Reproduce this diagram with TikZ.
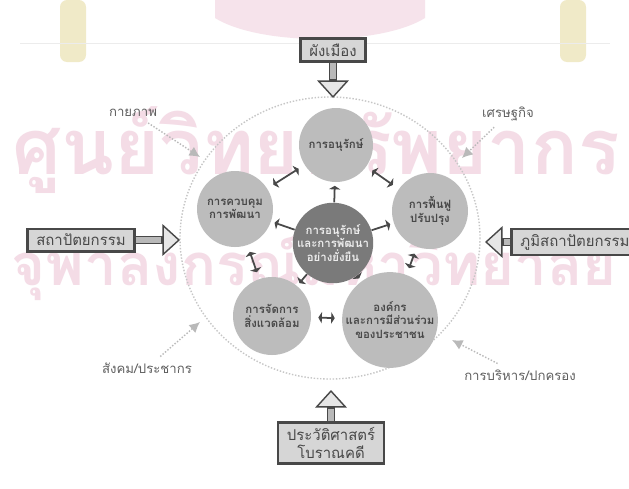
\documentclass[tikz,border=0pt]{standalone}
\usepackage{fontspec}
\setmainfont[Script=Thai]{Loma}
\usepackage{tikz}
\usetikzlibrary{arrows.meta}

\definecolor{wmpink}{RGB}{244,220,230}
\definecolor{wmgold}{RGB}{240,234,200}
\definecolor{boxfill}{RGB}{214,214,214}
\definecolor{circfill}{RGB}{188,188,188}
\definecolor{hubfill}{RGB}{122,122,122}
\definecolor{inkgray}{RGB}{72,72,72}

\tikzset{
  wmark/.style={font=\fontsize{44}{48}\selectfont\bfseries, text=wmpink},
  srcbox/.style={draw=inkgray, line width=1.4pt, fill=boxfill, inner xsep=5pt, inner ysep=3pt,
    font=\fontsize{8.5}{10}\selectfont, text=inkgray, align=center},
  topic/.style={circle, fill=circfill, inner sep=0pt, align=center,
    font=\fontsize{6.5}{7.5}\selectfont\bfseries, text=inkgray},
  hub/.style={topic, fill=hubfill, text=white!85!gray},
  aspect/.style={font=\fontsize{7.5}{9}\selectfont, text=gray!75!black},
  ring/.style={densely dotted, line width=0.8pt, draw=gray!45},
  bshaft/.style={line width=5pt, draw=inkgray,
    -{Triangle[length=10pt,width=18pt,line width=0.8pt,fill=boxfill!60!white]}},
  binner/.style={line width=3.2pt, draw=gray!55, shorten >=10.6pt},
  link/.style={line width=1pt, draw=inkgray,
    {Triangle[length=2pt,width=6.5pt]}-{Triangle[length=2pt,width=6.5pt]},
    shorten >=4pt, shorten <=4pt},
  spoke/.style={line width=1pt, draw=inkgray, -{Triangle[length=2pt,width=6.5pt]}, shorten >=2pt},
  hint/.style={densely dotted, line width=0.8pt, draw=gray!55, -{Latex[length=6pt,width=6pt]}}
}

\begin{document}
\begin{tikzpicture}[x=0.02cm, y=-0.02cm]
\useasboundingbox (0,0) rectangle (629,488);
\fill[white] (0,0) rectangle (629,488);

% watermark
\fill[wmpink!80] (215,0) -- (425,0) -- (425,18) .. controls (380,46) and (260,46) .. (215,18) -- cycle;
\fill[wmgold, rounded corners=4pt] (60,0) rectangle (86,62);
\fill[wmgold, rounded corners=4pt] (560,0) rectangle (586,62);
\draw[gray!15] (20,43) -- (610,43);
\node[wmark] (wm1) at (316,150) {ศูนย์วิทยทรัพยากร};
\node[wmark, font=\fontsize{33}{36}\selectfont\bfseries] (wm2) at (314,268) {จุฬาลงกรณ์มหาวิทยาลัย};

% ring and circles
\coordinate (mid) at (330,238);
\draw[ring] (mid) ellipse [x radius=150, y radius=141];

\node[topic, minimum size=1.48cm] (ctop) at (336,145) {การอนุรักษ์};
\node[topic, minimum size=1.52cm] (cright) at (430,211) {การฟื้นฟู\\ปรับปรุง};
\node[topic, minimum size=1.64cm] (cbr) at (390,320) {องค์กร\\และการมีส่วนร่วม\\ของประชาชน};
\node[topic, minimum size=1.56cm] (cbl) at (272,316) {การจัดการ\\สิ่งแวดล้อม};
\node[topic, minimum size=1.52cm] (cleft) at (235,209) {การควบคุม\\การพัฒนา};
\node[hub, minimum size=1.6cm] (hub) at (333,243) {การอนุรักษ์\\และการพัฒนา\\อย่างยั่งยืน};

\foreach \c in {ctop, cright, cbr, cbl, cleft}
  \draw[spoke] (hub) -- (\c);

\draw[link] (cleft) -- (ctop);
\draw[link] (ctop) -- (cright);
\draw[link] (cright) -- (cbr);
\draw[link] (cbl) -- (cbr);
\draw[link] (cleft) -- (cbl);

% sources
\node[srcbox] (plan) at (333,50) {ผังเมือง};
\node[srcbox] (arch) at (81,240) {สถาปัตยกรรม};
\node[srcbox] (land) at (575,242) {ภูมิสถาปัตยกรรม};
\node[srcbox] (hist) at (331,443) {ประวัติศาสตร์\\โบราณคดี};

\coordinate (plantip) at (333,98);
\coordinate (archtip) at (180,240);
\coordinate (landtip) at (485,242);
\coordinate (histtip) at (331,390);

\foreach \b in {plan, arch, land, hist} {
  \draw[bshaft] (\b) -- (\b tip);
  \draw[binner] (\b) -- (\b tip);
}

% aspects
\node[aspect] (phys) at (133,113) {กายภาพ};
\node[aspect] (econ) at (508,114) {เศรษฐกิจ};
\node[aspect] (soc) at (147,368) {สังคม/ประชากร};
\node[aspect] (gov) at (520,375) {การบริหาร/ปกครอง};

\coordinate (physend) at (200,157);
\coordinate (econend) at (462,158);
\coordinate (socend) at (200,322);
\coordinate (govend) at (452,340);

\foreach \a in {phys, econ, soc, gov}
  \draw[hint] (\a) -- (\a end);
\end{tikzpicture}
\end{document}
